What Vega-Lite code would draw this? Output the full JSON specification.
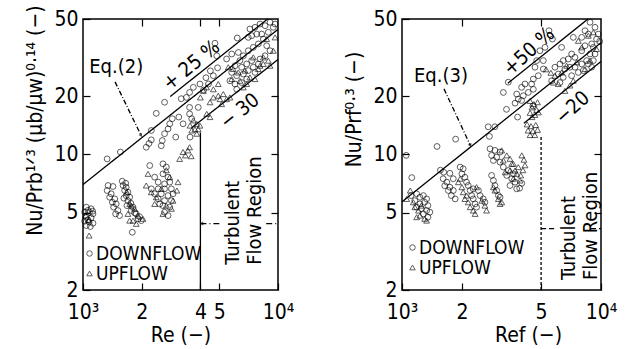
{
"$schema":"https://vega.github.io/schema/vega-lite/v6.json",
"background":"white",
"padding":{"left":24,"top":4,"right":5,"bottom":0},
"spacing":48,
"datasets":{
"Lpts":[
{"Re":1040,"Nu":5.35,"flow":"DOWNFLOW"},{"Re":1100,"Nu":5.25,"flow":"DOWNFLOW"},{"Re":1020,"Nu":5.04,"flow":"DOWNFLOW"},{"Re":1080,"Nu":5.04,"flow":"DOWNFLOW"},{"Re":1125,"Nu":4.94,"flow":"DOWNFLOW"},{"Re":1040,"Nu":4.75,"flow":"DOWNFLOW"},{"Re":1100,"Nu":4.71,"flow":"DOWNFLOW"},{"Re":1020,"Nu":4.53,"flow":"DOWNFLOW"},{"Re":1075,"Nu":4.48,"flow":"DOWNFLOW"},{"Re":1125,"Nu":4.42,"flow":"DOWNFLOW"},{"Re":1040,"Nu":4.30,"flow":"DOWNFLOW"},{"Re":1090,"Nu":4.25,"flow":"DOWNFLOW"},{"Re":1060,"Nu":5.15,"flow":"DOWNFLOW"},{"Re":1120,"Nu":5.1,"flow":"DOWNFLOW"},{"Re":1060,"Nu":4.6,"flow":"DOWNFLOW"},
{"Re":1345,"Nu":6.92,"flow":"DOWNFLOW"},{"Re":1425,"Nu":6.84,"flow":"DOWNFLOW"},{"Re":1330,"Nu":6.52,"flow":"DOWNFLOW"},{"Re":1395,"Nu":6.27,"flow":"DOWNFLOW"},{"Re":1370,"Nu":6.02,"flow":"DOWNFLOW"},{"Re":1455,"Nu":5.90,"flow":"DOWNFLOW"},{"Re":1415,"Nu":5.67,"flow":"DOWNFLOW"},{"Re":1480,"Nu":5.56,"flow":"DOWNFLOW"},{"Re":1435,"Nu":5.35,"flow":"DOWNFLOW"},{"Re":1510,"Nu":5.14,"flow":"DOWNFLOW"},{"Re":1470,"Nu":4.94,"flow":"DOWNFLOW"},{"Re":1540,"Nu":4.84,"flow":"DOWNFLOW"},{"Re":1590,"Nu":7.28,"flow":"DOWNFLOW"},{"Re":1655,"Nu":7.11,"flow":"DOWNFLOW"},{"Re":1605,"Nu":6.92,"flow":"DOWNFLOW"},{"Re":1665,"Nu":6.78,"flow":"DOWNFLOW"},{"Re":1635,"Nu":6.52,"flow":"DOWNFLOW"},{"Re":1700,"Nu":6.39,"flow":"DOWNFLOW"},{"Re":1665,"Nu":6.14,"flow":"DOWNFLOW"},{"Re":1735,"Nu":6.02,"flow":"DOWNFLOW"},{"Re":1700,"Nu":5.78,"flow":"DOWNFLOW"},{"Re":1805,"Nu":5.35,"flow":"DOWNFLOW"},{"Re":1770,"Nu":5.14,"flow":"DOWNFLOW"},{"Re":1875,"Nu":4.94,"flow":"DOWNFLOW"},{"Re":1915,"Nu":4.66,"flow":"DOWNFLOW"},{"Re":1950,"Nu":4.78,"flow":"DOWNFLOW"},{"Re":1790,"Nu":3.97,"flow":"DOWNFLOW"},{"Re":1990,"Nu":4.56,"flow":"DOWNFLOW"},{"Re":1620,"Nu":5.95,"flow":"DOWNFLOW"},{"Re":1760,"Nu":5.6,"flow":"DOWNFLOW"},{"Re":1840,"Nu":5.0,"flow":"DOWNFLOW"},{"Re":1680,"Nu":5.45,"flow":"DOWNFLOW"},
{"Re":2200,"Nu":8.77,"flow":"DOWNFLOW"},{"Re":2570,"Nu":8.95,"flow":"DOWNFLOW"},{"Re":2675,"Nu":8.61,"flow":"DOWNFLOW"},{"Re":2330,"Nu":7.64,"flow":"DOWNFLOW"},{"Re":2570,"Nu":7.95,"flow":"DOWNFLOW"},{"Re":2730,"Nu":7.64,"flow":"DOWNFLOW"},{"Re":2430,"Nu":7.2,"flow":"DOWNFLOW"},{"Re":2620,"Nu":7.05,"flow":"DOWNFLOW"},{"Re":2785,"Nu":7.2,"flow":"DOWNFLOW"},{"Re":2240,"Nu":6.65,"flow":"DOWNFLOW"},{"Re":2430,"Nu":6.65,"flow":"DOWNFLOW"},{"Re":2620,"Nu":6.65,"flow":"DOWNFLOW"},{"Re":2840,"Nu":6.65,"flow":"DOWNFLOW"},{"Re":2330,"Nu":6.27,"flow":"DOWNFLOW"},{"Re":2520,"Nu":6.27,"flow":"DOWNFLOW"},{"Re":2730,"Nu":6.14,"flow":"DOWNFLOW"},{"Re":2895,"Nu":6.27,"flow":"DOWNFLOW"},{"Re":2430,"Nu":5.9,"flow":"DOWNFLOW"},{"Re":2620,"Nu":5.78,"flow":"DOWNFLOW"},{"Re":2840,"Nu":5.78,"flow":"DOWNFLOW"},{"Re":2570,"Nu":5.45,"flow":"DOWNFLOW"},{"Re":2785,"Nu":5.35,"flow":"DOWNFLOW"},{"Re":2620,"Nu":5.04,"flow":"DOWNFLOW"},{"Re":2730,"Nu":4.84,"flow":"DOWNFLOW"},{"Re":2475,"Nu":5.56,"flow":"DOWNFLOW"},
{"Re":1330,"Nu":9.49,"flow":"DOWNFLOW"},{"Re":1555,"Nu":10.3,"flow":"DOWNFLOW"},{"Re":2240,"Nu":13.3,"flow":"DOWNFLOW"},{"Re":2110,"Nu":10.9,"flow":"DOWNFLOW"},{"Re":2180,"Nu":11.4,"flow":"DOWNFLOW"},{"Re":2240,"Nu":11.9,"flow":"DOWNFLOW"},{"Re":2375,"Nu":16.3,"flow":"DOWNFLOW"},{"Re":2620,"Nu":18.6,"flow":"DOWNFLOW"},{"Re":2520,"Nu":11.1,"flow":"DOWNFLOW"},{"Re":2550,"Nu":11.8,"flow":"DOWNFLOW"},{"Re":2620,"Nu":12.8,"flow":"DOWNFLOW"},{"Re":2730,"Nu":13.55,"flow":"DOWNFLOW"},{"Re":2785,"Nu":14.4,"flow":"DOWNFLOW"},{"Re":2870,"Nu":15.3,"flow":"DOWNFLOW"},{"Re":2990,"Nu":12.3,"flow":"DOWNFLOW"},{"Re":3100,"Nu":15.6,"flow":"DOWNFLOW"},{"Re":3260,"Nu":14.4,"flow":"DOWNFLOW"},{"Re":3190,"Nu":19.4,"flow":"DOWNFLOW"},{"Re":3390,"Nu":19.7,"flow":"DOWNFLOW"},{"Re":3520,"Nu":20.9,"flow":"DOWNFLOW"},{"Re":3520,"Nu":17.5,"flow":"DOWNFLOW"},{"Re":3520,"Nu":16.2,"flow":"DOWNFLOW"},{"Re":3610,"Nu":15.3,"flow":"DOWNFLOW"},{"Re":3900,"Nu":17.5,"flow":"DOWNFLOW"},{"Re":3540,"Nu":12.3,"flow":"DOWNFLOW"},
{"Re":3980,"Nu":23.1,"flow":"DOWNFLOW"},{"Re":4270,"Nu":24.9,"flow":"DOWNFLOW"},{"Re":4660,"Nu":25.5,"flow":"DOWNFLOW"},{"Re":4400,"Nu":23.1,"flow":"DOWNFLOW"},{"Re":3680,"Nu":22.2,"flow":"DOWNFLOW"},{"Re":4150,"Nu":21.5,"flow":"DOWNFLOW"},{"Re":4850,"Nu":32.3,"flow":"DOWNFLOW"},{"Re":4750,"Nu":37.5,"flow":"DOWNFLOW"},{"Re":4500,"Nu":27,"flow":"DOWNFLOW"},{"Re":4900,"Nu":28,"flow":"DOWNFLOW"},
{"Re":7180,"Nu":44.4,"flow":"DOWNFLOW"},{"Re":7620,"Nu":45.3,"flow":"DOWNFLOW"},{"Re":8090,"Nu":47.1,"flow":"DOWNFLOW"},{"Re":8580,"Nu":46.2,"flow":"DOWNFLOW"},{"Re":9100,"Nu":48.1,"flow":"DOWNFLOW"},{"Re":9460,"Nu":45.3,"flow":"DOWNFLOW"},{"Re":8920,"Nu":42.7,"flow":"DOWNFLOW"},{"Re":8250,"Nu":41.8,"flow":"DOWNFLOW"},{"Re":7780,"Nu":41.8,"flow":"DOWNFLOW"},{"Re":7330,"Nu":41,"flow":"DOWNFLOW"},{"Re":7040,"Nu":40.2,"flow":"DOWNFLOW"},{"Re":6180,"Nu":39.9,"flow":"DOWNFLOW"},{"Re":9660,"Nu":47.1,"flow":"DOWNFLOW"},{"Re":8410,"Nu":39.4,"flow":"DOWNFLOW"},{"Re":7930,"Nu":37.2,"flow":"DOWNFLOW"},{"Re":7470,"Nu":35.7,"flow":"DOWNFLOW"},{"Re":7040,"Nu":34.3,"flow":"DOWNFLOW"},{"Re":8750,"Nu":36.4,"flow":"DOWNFLOW"},{"Re":5450,"Nu":31.1,"flow":"DOWNFLOW"},{"Re":5790,"Nu":33,"flow":"DOWNFLOW"},{"Re":6260,"Nu":33.6,"flow":"DOWNFLOW"},{"Re":6640,"Nu":32.3,"flow":"DOWNFLOW"},{"Re":6380,"Nu":30.5,"flow":"DOWNFLOW"},{"Re":6020,"Nu":28.7,"flow":"DOWNFLOW"},{"Re":6510,"Nu":28.2,"flow":"DOWNFLOW"},{"Re":6910,"Nu":29.3,"flow":"DOWNFLOW"},{"Re":7330,"Nu":30.5,"flow":"DOWNFLOW"},{"Re":5790,"Nu":26.5,"flow":"DOWNFLOW"},{"Re":6140,"Nu":25.5,"flow":"DOWNFLOW"},{"Re":6640,"Nu":26,"flow":"DOWNFLOW"},{"Re":7040,"Nu":27.1,"flow":"DOWNFLOW"},{"Re":7470,"Nu":28.2,"flow":"DOWNFLOW"},{"Re":7930,"Nu":29.3,"flow":"DOWNFLOW"},{"Re":5670,"Nu":24,"flow":"DOWNFLOW"},{"Re":6020,"Nu":23.1,"flow":"DOWNFLOW"},{"Re":6510,"Nu":23.5,"flow":"DOWNFLOW"},{"Re":6910,"Nu":24.5,"flow":"DOWNFLOW"},{"Re":7620,"Nu":26.5,"flow":"DOWNFLOW"},{"Re":8090,"Nu":31.1,"flow":"DOWNFLOW"},{"Re":8580,"Nu":32.3,"flow":"DOWNFLOW"},{"Re":6140,"Nu":21.7,"flow":"DOWNFLOW"},{"Re":9100,"Nu":34.3,"flow":"DOWNFLOW"},
{"Re":1075,"Nu":3.82,"flow":"UPFLOW"},{"Re":1030,"Nu":4.85,"flow":"UPFLOW"},{"Re":1070,"Nu":4.6,"flow":"UPFLOW"},
{"Re":1680,"Nu":6.39,"flow":"UPFLOW"},{"Re":1735,"Nu":5.56,"flow":"UPFLOW"},{"Re":1770,"Nu":5.45,"flow":"UPFLOW"},{"Re":1840,"Nu":5.25,"flow":"UPFLOW"},{"Re":1700,"Nu":4.94,"flow":"UPFLOW"},{"Re":1915,"Nu":4.84,"flow":"UPFLOW"},{"Re":1805,"Nu":4.56,"flow":"UPFLOW"},{"Re":1735,"Nu":4.56,"flow":"UPFLOW"},{"Re":1875,"Nu":4.39,"flow":"UPFLOW"},{"Re":2030,"Nu":4.66,"flow":"UPFLOW"},
{"Re":2155,"Nu":7.95,"flow":"UPFLOW"},{"Re":2110,"Nu":6.92,"flow":"UPFLOW"},{"Re":2240,"Nu":6.39,"flow":"UPFLOW"},{"Re":2375,"Nu":6.02,"flow":"UPFLOW"},{"Re":2330,"Nu":5.56,"flow":"UPFLOW"},{"Re":2675,"Nu":5.45,"flow":"UPFLOW"},{"Re":3070,"Nu":7.2,"flow":"UPFLOW"},{"Re":3030,"Nu":6.52,"flow":"UPFLOW"},{"Re":2840,"Nu":5.25,"flow":"UPFLOW"},{"Re":2570,"Nu":4.94,"flow":"UPFLOW"},{"Re":2675,"Nu":8.3,"flow":"UPFLOW"},{"Re":2785,"Nu":7.64,"flow":"UPFLOW"},{"Re":2895,"Nu":5.78,"flow":"UPFLOW"},{"Re":2520,"Nu":6.65,"flow":"UPFLOW"},
{"Re":3130,"Nu":9.49,"flow":"UPFLOW"},{"Re":3260,"Nu":10.3,"flow":"UPFLOW"},{"Re":3520,"Nu":10.9,"flow":"UPFLOW"},{"Re":3590,"Nu":9.8,"flow":"UPFLOW"},{"Re":3350,"Nu":9.9,"flow":"UPFLOW"},{"Re":3450,"Nu":10.5,"flow":"UPFLOW"},
{"Re":3680,"Nu":15,"flow":"UPFLOW"},{"Re":3830,"Nu":14.4,"flow":"UPFLOW"},{"Re":3750,"Nu":13.5,"flow":"UPFLOW"},{"Re":3610,"Nu":13.3,"flow":"UPFLOW"},{"Re":3900,"Nu":13.5,"flow":"UPFLOW"},{"Re":3830,"Nu":12.8,"flow":"UPFLOW"},{"Re":3980,"Nu":14.1,"flow":"UPFLOW"},{"Re":3540,"Nu":14.1,"flow":"UPFLOW"},
{"Re":4140,"Nu":21.3,"flow":"UPFLOW"},{"Re":4660,"Nu":21.7,"flow":"UPFLOW"},{"Re":4940,"Nu":23.1,"flow":"UPFLOW"},{"Re":4660,"Nu":19.7,"flow":"UPFLOW"},{"Re":5040,"Nu":19.3,"flow":"UPFLOW"},{"Re":5450,"Nu":19.3,"flow":"UPFLOW"},{"Re":4480,"Nu":18.6,"flow":"UPFLOW"},{"Re":5140,"Nu":18.2,"flow":"UPFLOW"},{"Re":4310,"Nu":16.2,"flow":"UPFLOW"},{"Re":4480,"Nu":15.6,"flow":"UPFLOW"},{"Re":4940,"Nu":20.1,"flow":"UPFLOW"},{"Re":5240,"Nu":20.5,"flow":"UPFLOW"},{"Re":5670,"Nu":19.7,"flow":"UPFLOW"},{"Re":4000,"Nu":19.7,"flow":"UPFLOW"},{"Re":4300,"Nu":22.2,"flow":"UPFLOW"},
{"Re":5560,"Nu":28.2,"flow":"UPFLOW"},{"Re":5900,"Nu":27.6,"flow":"UPFLOW"},{"Re":6260,"Nu":26.5,"flow":"UPFLOW"},{"Re":6770,"Nu":27.1,"flow":"UPFLOW"},{"Re":7180,"Nu":25,"flow":"UPFLOW"},{"Re":7620,"Nu":24.5,"flow":"UPFLOW"},{"Re":7930,"Nu":27.6,"flow":"UPFLOW"},{"Re":8410,"Nu":29.3,"flow":"UPFLOW"},{"Re":6380,"Nu":24,"flow":"UPFLOW"},{"Re":5790,"Nu":24.5,"flow":"UPFLOW"},{"Re":6640,"Nu":22.2,"flow":"UPFLOW"},{"Re":6910,"Nu":23.1,"flow":"UPFLOW"},{"Re":8750,"Nu":39.4,"flow":"UPFLOW"},{"Re":8410,"Nu":31.7,"flow":"UPFLOW"},{"Re":8920,"Nu":30.5,"flow":"UPFLOW"},{"Re":8090,"Nu":28.7,"flow":"UPFLOW"},{"Re":9460,"Nu":34.3,"flow":"UPFLOW"},{"Re":9100,"Nu":28.7,"flow":"UPFLOW"},{"Re":7470,"Nu":31.7,"flow":"UPFLOW"},{"Re":9660,"Nu":40.2,"flow":"UPFLOW"}
],
"Rpts":[
{"Re":1050,"Nu":9.9,"flow":"DOWNFLOW"},{"Re":1120,"Nu":7.6,"flow":"DOWNFLOW"},{"Re":1500,"Nu":11.0,"flow":"DOWNFLOW"},{"Re":1860,"Nu":12.0,"flow":"DOWNFLOW"},{"Re":2710,"Nu":13.9,"flow":"DOWNFLOW"},{"Re":2930,"Nu":13.9,"flow":"DOWNFLOW"},{"Re":2750,"Nu":12.4,"flow":"DOWNFLOW"},{"Re":1560,"Nu":8.3,"flow":"DOWNFLOW"},{"Re":1620,"Nu":8.1,"flow":"DOWNFLOW"},
{"Re":1110,"Nu":6.14,"flow":"DOWNFLOW"},{"Re":1185,"Nu":6.27,"flow":"DOWNFLOW"},{"Re":1230,"Nu":6.02,"flow":"DOWNFLOW"},{"Re":1280,"Nu":6.14,"flow":"DOWNFLOW"},{"Re":1330,"Nu":5.9,"flow":"DOWNFLOW"},{"Re":1160,"Nu":5.78,"flow":"DOWNFLOW"},{"Re":1230,"Nu":5.56,"flow":"DOWNFLOW"},{"Re":1300,"Nu":5.67,"flow":"DOWNFLOW"},{"Re":1350,"Nu":5.45,"flow":"DOWNFLOW"},{"Re":1185,"Nu":5.35,"flow":"DOWNFLOW"},{"Re":1250,"Nu":5.25,"flow":"DOWNFLOW"},{"Re":1330,"Nu":5.14,"flow":"DOWNFLOW"},{"Re":1380,"Nu":5.04,"flow":"DOWNFLOW"},{"Re":1280,"Nu":4.94,"flow":"DOWNFLOW"},{"Re":1350,"Nu":4.75,"flow":"DOWNFLOW"},
{"Re":1610,"Nu":7.5,"flow":"DOWNFLOW"},{"Re":1680,"Nu":7.2,"flow":"DOWNFLOW"},{"Re":1640,"Nu":6.9,"flow":"DOWNFLOW"},{"Re":1740,"Nu":6.78,"flow":"DOWNFLOW"},{"Re":1710,"Nu":6.52,"flow":"DOWNFLOW"},{"Re":1810,"Nu":6.52,"flow":"DOWNFLOW"},{"Re":1770,"Nu":6.14,"flow":"DOWNFLOW"},{"Re":1850,"Nu":5.9,"flow":"DOWNFLOW"},{"Re":1810,"Nu":7.5,"flow":"DOWNFLOW"},{"Re":1740,"Nu":8.0,"flow":"DOWNFLOW"},
{"Re":1960,"Nu":8.61,"flow":"DOWNFLOW"},{"Re":2030,"Nu":8.44,"flow":"DOWNFLOW"},{"Re":2000,"Nu":7.95,"flow":"DOWNFLOW"},{"Re":2070,"Nu":7.64,"flow":"DOWNFLOW"},{"Re":2110,"Nu":7.2,"flow":"DOWNFLOW"},{"Re":2150,"Nu":6.92,"flow":"DOWNFLOW"},{"Re":2200,"Nu":6.52,"flow":"DOWNFLOW"},{"Re":2240,"Nu":6.14,"flow":"DOWNFLOW"},{"Re":2280,"Nu":5.9,"flow":"DOWNFLOW"},{"Re":2330,"Nu":5.56,"flow":"DOWNFLOW"},{"Re":2370,"Nu":5.35,"flow":"DOWNFLOW"},
{"Re":2280,"Nu":6.65,"flow":"DOWNFLOW"},{"Re":2420,"Nu":6.52,"flow":"DOWNFLOW"},{"Re":2470,"Nu":6.14,"flow":"DOWNFLOW"},{"Re":2560,"Nu":5.9,"flow":"DOWNFLOW"},{"Re":2610,"Nu":5.67,"flow":"DOWNFLOW"},
{"Re":2820,"Nu":7.8,"flow":"DOWNFLOW"},{"Re":2880,"Nu":7.34,"flow":"DOWNFLOW"},{"Re":2930,"Nu":6.92,"flow":"DOWNFLOW"},{"Re":2990,"Nu":6.52,"flow":"DOWNFLOW"},{"Re":3050,"Nu":6.14,"flow":"DOWNFLOW"},{"Re":3110,"Nu":6.02,"flow":"DOWNFLOW"},
{"Re":2770,"Nu":10.7,"flow":"DOWNFLOW"},{"Re":2930,"Nu":10.5,"flow":"DOWNFLOW"},{"Re":3110,"Nu":10.3,"flow":"DOWNFLOW"},{"Re":2820,"Nu":9.9,"flow":"DOWNFLOW"},{"Re":2990,"Nu":9.69,"flow":"DOWNFLOW"},{"Re":2880,"Nu":9.31,"flow":"DOWNFLOW"},{"Re":3110,"Nu":9.13,"flow":"DOWNFLOW"},{"Re":3230,"Nu":8.61,"flow":"DOWNFLOW"},{"Re":3420,"Nu":8.27,"flow":"DOWNFLOW"},{"Re":3360,"Nu":7.8,"flow":"DOWNFLOW"},{"Re":3560,"Nu":7.5,"flow":"DOWNFLOW"},{"Re":3700,"Nu":7.2,"flow":"DOWNFLOW"},{"Re":3490,"Nu":6.92,"flow":"DOWNFLOW"},{"Re":3770,"Nu":6.65,"flow":"DOWNFLOW"},{"Re":3630,"Nu":7.95,"flow":"DOWNFLOW"},{"Re":3900,"Nu":6.7,"flow":"DOWNFLOW"},{"Re":4000,"Nu":7.1,"flow":"DOWNFLOW"},
{"Re":5480,"Nu":43.5,"flow":"DOWNFLOW"},{"Re":5700,"Nu":39.4,"flow":"DOWNFLOW"},{"Re":5230,"Nu":35.7,"flow":"DOWNFLOW"},{"Re":4930,"Nu":34.3,"flow":"DOWNFLOW"},{"Re":4750,"Nu":30.5,"flow":"DOWNFLOW"},{"Re":5130,"Nu":30.5,"flow":"DOWNFLOW"},{"Re":4660,"Nu":28.2,"flow":"DOWNFLOW"},{"Re":5130,"Nu":27.6,"flow":"DOWNFLOW"},{"Re":4840,"Nu":25.5,"flow":"DOWNFLOW"},{"Re":4570,"Nu":24.5,"flow":"DOWNFLOW"},{"Re":4150,"Nu":23.1,"flow":"DOWNFLOW"},{"Re":3990,"Nu":22.2,"flow":"DOWNFLOW"},{"Re":4480,"Nu":23.1,"flow":"DOWNFLOW"},{"Re":4570,"Nu":21.7,"flow":"DOWNFLOW"},{"Re":3770,"Nu":20.5,"flow":"DOWNFLOW"},{"Re":3840,"Nu":19.3,"flow":"DOWNFLOW"},{"Re":3700,"Nu":18.4,"flow":"DOWNFLOW"},{"Re":3350,"Nu":17.1,"flow":"DOWNFLOW"},{"Re":3420,"Nu":23.6,"flow":"DOWNFLOW"},{"Re":3230,"Nu":20.9,"flow":"DOWNFLOW"},{"Re":3990,"Nu":19.0,"flow":"DOWNFLOW"},{"Re":4310,"Nu":20.9,"flow":"DOWNFLOW"},{"Re":4070,"Nu":20.1,"flow":"DOWNFLOW"},{"Re":3810,"Nu":15.6,"flow":"DOWNFLOW"},{"Re":4550,"Nu":17.8,"flow":"DOWNFLOW"},
{"Re":8810,"Nu":48.1,"flow":"DOWNFLOW"},{"Re":9330,"Nu":45.3,"flow":"DOWNFLOW"},{"Re":8310,"Nu":43.5,"flow":"DOWNFLOW"},{"Re":8640,"Nu":41.8,"flow":"DOWNFLOW"},{"Re":8000,"Nu":40.2,"flow":"DOWNFLOW"},{"Re":7260,"Nu":40.2,"flow":"DOWNFLOW"},{"Re":6340,"Nu":35.7,"flow":"DOWNFLOW"},{"Re":7120,"Nu":33,"flow":"DOWNFLOW"},{"Re":8000,"Nu":34.3,"flow":"DOWNFLOW"},{"Re":9690,"Nu":41.8,"flow":"DOWNFLOW"},{"Re":9850,"Nu":38.3,"flow":"DOWNFLOW"},{"Re":8980,"Nu":37.2,"flow":"DOWNFLOW"},
{"Re":5870,"Nu":28.2,"flow":"DOWNFLOW"},{"Re":6220,"Nu":29.3,"flow":"DOWNFLOW"},{"Re":6460,"Nu":30.5,"flow":"DOWNFLOW"},{"Re":6850,"Nu":31.1,"flow":"DOWNFLOW"},{"Re":7400,"Nu":31.7,"flow":"DOWNFLOW"},{"Re":6590,"Nu":27.6,"flow":"DOWNFLOW"},{"Re":6980,"Nu":28.2,"flow":"DOWNFLOW"},{"Re":6100,"Nu":26,"flow":"DOWNFLOW"},{"Re":6460,"Nu":25,"flow":"DOWNFLOW"},{"Re":7120,"Nu":25.5,"flow":"DOWNFLOW"},{"Re":7690,"Nu":26.5,"flow":"DOWNFLOW"},{"Re":7400,"Nu":28.2,"flow":"DOWNFLOW"},{"Re":8000,"Nu":29.3,"flow":"DOWNFLOW"},{"Re":8470,"Nu":30.5,"flow":"DOWNFLOW"},{"Re":8810,"Nu":33,"flow":"DOWNFLOW"},{"Re":9150,"Nu":35.7,"flow":"DOWNFLOW"},{"Re":9500,"Nu":39.4,"flow":"DOWNFLOW"},{"Re":8310,"Nu":36.4,"flow":"DOWNFLOW"},{"Re":9330,"Nu":33,"flow":"DOWNFLOW"},{"Re":8640,"Nu":29.3,"flow":"DOWNFLOW"},{"Re":9150,"Nu":30.5,"flow":"DOWNFLOW"},{"Re":8150,"Nu":27.1,"flow":"DOWNFLOW"},{"Re":8980,"Nu":28.2,"flow":"DOWNFLOW"},{"Re":5650,"Nu":24,"flow":"DOWNFLOW"},{"Re":6220,"Nu":23.5,"flow":"DOWNFLOW"},
{"Re":1100,"Nu":6.52,"flow":"UPFLOW"},{"Re":1056,"Nu":5.9,"flow":"UPFLOW"},{"Re":1140,"Nu":5.67,"flow":"UPFLOW"},{"Re":1210,"Nu":5.14,"flow":"UPFLOW"},{"Re":1230,"Nu":4.84,"flow":"UPFLOW"},{"Re":1300,"Nu":4.66,"flow":"UPFLOW"},{"Re":1330,"Nu":4.56,"flow":"UPFLOW"},{"Re":1160,"Nu":5.35,"flow":"UPFLOW"},{"Re":1250,"Nu":5.45,"flow":"UPFLOW"},{"Re":1185,"Nu":4.75,"flow":"UPFLOW"},
{"Re":1920,"Nu":7.2,"flow":"UPFLOW"},{"Re":2000,"Nu":6.78,"flow":"UPFLOW"},{"Re":2030,"Nu":6.39,"flow":"UPFLOW"},{"Re":2070,"Nu":5.9,"flow":"UPFLOW"},{"Re":2150,"Nu":5.67,"flow":"UPFLOW"},{"Re":2200,"Nu":5.35,"flow":"UPFLOW"},{"Re":2280,"Nu":5.14,"flow":"UPFLOW"},{"Re":2330,"Nu":4.94,"flow":"UPFLOW"},{"Re":1960,"Nu":7.5,"flow":"UPFLOW"},{"Re":2110,"Nu":6.14,"flow":"UPFLOW"},
{"Re":2370,"Nu":6.78,"flow":"UPFLOW"},{"Re":2520,"Nu":5.78,"flow":"UPFLOW"},{"Re":2610,"Nu":5.45,"flow":"UPFLOW"},{"Re":2660,"Nu":5.14,"flow":"UPFLOW"},
{"Re":2930,"Nu":6.52,"flow":"UPFLOW"},{"Re":3050,"Nu":5.9,"flow":"UPFLOW"},{"Re":3110,"Nu":5.56,"flow":"UPFLOW"},{"Re":3170,"Nu":5.67,"flow":"UPFLOW"},{"Re":2880,"Nu":6.78,"flow":"UPFLOW"},
{"Re":3170,"Nu":10.5,"flow":"UPFLOW"},{"Re":3490,"Nu":9.5,"flow":"UPFLOW"},{"Re":3360,"Nu":9.9,"flow":"UPFLOW"},{"Re":3230,"Nu":9.31,"flow":"UPFLOW"},{"Re":3630,"Nu":8.95,"flow":"UPFLOW"},{"Re":3840,"Nu":8.61,"flow":"UPFLOW"},{"Re":3700,"Nu":8.27,"flow":"UPFLOW"},{"Re":3490,"Nu":8.27,"flow":"UPFLOW"},{"Re":3770,"Nu":7.95,"flow":"UPFLOW"},{"Re":3920,"Nu":7.34,"flow":"UPFLOW"},{"Re":3630,"Nu":7.5,"flow":"UPFLOW"},{"Re":3300,"Nu":8.1,"flow":"UPFLOW"},{"Re":3560,"Nu":8.95,"flow":"UPFLOW"},{"Re":4000,"Nu":9.9,"flow":"UPFLOW"},{"Re":4100,"Nu":9.4,"flow":"UPFLOW"},{"Re":4050,"Nu":8.3,"flow":"UPFLOW"},{"Re":3950,"Nu":7.8,"flow":"UPFLOW"},{"Re":4150,"Nu":8.8,"flow":"UPFLOW"},
{"Re":4400,"Nu":18.9,"flow":"UPFLOW"},{"Re":4600,"Nu":18.2,"flow":"UPFLOW"},{"Re":4800,"Nu":18.6,"flow":"UPFLOW"},{"Re":4500,"Nu":17.5,"flow":"UPFLOW"},{"Re":4750,"Nu":17,"flow":"UPFLOW"},{"Re":4400,"Nu":16.4,"flow":"UPFLOW"},{"Re":4650,"Nu":16,"flow":"UPFLOW"},{"Re":4850,"Nu":16.5,"flow":"UPFLOW"},{"Re":4500,"Nu":15.6,"flow":"UPFLOW"},{"Re":4250,"Nu":14.3,"flow":"UPFLOW"},{"Re":4450,"Nu":14,"flow":"UPFLOW"},{"Re":4700,"Nu":14.2,"flow":"UPFLOW"},{"Re":4300,"Nu":13.3,"flow":"UPFLOW"},{"Re":4550,"Nu":13.2,"flow":"UPFLOW"},{"Re":4800,"Nu":13.4,"flow":"UPFLOW"},{"Re":4400,"Nu":12.6,"flow":"UPFLOW"},{"Re":4650,"Nu":12.6,"flow":"UPFLOW"},
{"Re":5870,"Nu":25.5,"flow":"UPFLOW"},{"Re":5760,"Nu":23.5,"flow":"UPFLOW"},{"Re":6100,"Nu":23.1,"flow":"UPFLOW"},{"Re":6340,"Nu":26.5,"flow":"UPFLOW"},{"Re":6720,"Nu":28.7,"flow":"UPFLOW"},{"Re":7260,"Nu":24,"flow":"UPFLOW"},{"Re":6980,"Nu":22.7,"flow":"UPFLOW"},{"Re":7690,"Nu":38.6,"flow":"UPFLOW"},{"Re":8000,"Nu":35.7,"flow":"UPFLOW"},{"Re":8640,"Nu":41,"flow":"UPFLOW"},{"Re":9150,"Nu":42.7,"flow":"UPFLOW"},{"Re":8810,"Nu":30.5,"flow":"UPFLOW"},{"Re":8310,"Nu":27.6,"flow":"UPFLOW"},{"Re":7550,"Nu":29.9,"flow":"UPFLOW"},{"Re":9500,"Nu":35,"flow":"UPFLOW"},{"Re":6590,"Nu":21.3,"flow":"UPFLOW"},{"Re":5300,"Nu":27.5,"flow":"UPFLOW"},{"Re":5600,"Nu":26.4,"flow":"UPFLOW"}
],
"Llines":[
{"id":"eq2","kind":"equation","Re":1000,"Nu":7.0},{"id":"eq2","kind":"equation","Re":10000,"Nu":44.2},
{"id":"plus25","kind":"bound","Re":2800,"Nu":19.9},{"id":"plus25","kind":"bound","Re":8840,"Nu":50},
{"id":"minus30","kind":"bound","Re":3600,"Nu":13.7},{"id":"minus30","kind":"bound","Re":10000,"Nu":30.9},
{"id":"limit","kind":"boundary","Re":4000,"Nu":2},{"id":"limit","kind":"boundary","Re":4000,"Nu":13},
{"id":"turbA","kind":"guide","Re":4000,"Nu":4.4},{"id":"turbA","kind":"guide","Re":5000,"Nu":4.4},
{"id":"turbB","kind":"guide","Re":8700,"Nu":4.4},{"id":"turbB","kind":"guide","Re":10000,"Nu":4.4},
{"id":"lead","kind":"leader","Re":1460,"Nu":23.7},{"id":"lead","kind":"leader","Re":1980,"Nu":12.6}
],
"Rlines":[
{"id":"eq3","kind":"equation","Re":1000,"Nu":5.7},{"id":"eq3","kind":"equation","Re":10000,"Nu":37.7},
{"id":"plus50","kind":"bound","Re":3400,"Nu":23.3},{"id":"plus50","kind":"bound","Re":8600,"Nu":50},
{"id":"minus20","kind":"bound","Re":4100,"Nu":14.5},{"id":"minus20","kind":"bound","Re":10000,"Nu":30.2},
{"id":"limit","kind":"boundary","Re":5000,"Nu":2},{"id":"limit","kind":"boundary","Re":5000,"Nu":12.3},
{"id":"turbA","kind":"guide","Re":5000,"Nu":4.15},{"id":"turbA","kind":"guide","Re":6000,"Nu":4.15},
{"id":"turbB","kind":"guide","Re":8900,"Nu":4.15},{"id":"turbB","kind":"guide","Re":10000,"Nu":4.15},
{"id":"lead","kind":"leader","Re":1626,"Nu":21.8},{"id":"lead","kind":"leader","Re":2200,"Nu":11.2}
],
"Lnote":[{"label":"Eq.(2)","Re":1480,"Nu":28.3}],
"Lbound":[{"label":"+ 25 %","Re":3600,"Nu":28.8},{"label":"− 30","Re":6380,"Nu":16.7}],
"Lturb":[{"label":"Turbulent\nFlow Region","Re":5220,"Nu":2.70}],
"Llead":[{"Re":1980,"Nu":12.6}],
"Lturbarrow":[{"Re":4080,"Nu":4.4}],
"Rnote":[{"label":"Eq.(3)","Re":1570,"Nu":25.4}],
"Rbound":[{"label":"+50 %","Re":4350,"Nu":34.0},{"label":"−20","Re":7210,"Nu":17.4}],
"Rturb":[{"label":"Turbulent\nFlow Region","Re":6150,"Nu":2.25}],
"Rlead":[{"Re":2200,"Nu":11.2}]
},
"hconcat":[
{
"width":195,"height":271,
"layer":[
{"layer":[
{"data":{"name":"Lpts"},
 "mark":{"type":"point","filled":false,"color":"black","size":34,"strokeWidth":0.9},
 "encoding":{
  "x":{"field":"Re","type":"quantitative","scale":{"type":"log","domain":[1000,10000],"nice":false},
       "axis":{"values":[1000,2000,4000,5000,10000],"labelExpr":"datum.value == 1000 ? '10³' : datum.value == 10000 ? '10⁴' : format(datum.value/1000, 'd')","title":"Re  (−)","labelPadding":18,"titlePadding":2}},
  "y":{"field":"Nu","type":"quantitative","scale":{"type":"log","domain":[2,50],"nice":false},
       "axis":{"values":[2,5,10,20,50],"labelExpr":"format(datum.value, 'd')","title":"Nu/Prb¹ᐟ³ (μb/μw)⁰·¹⁴ (−)","titleY":101}},
  "shape":{"field":"flow","type":"nominal","scale":{"domain":["DOWNFLOW","UPFLOW"],"range":["circle","triangle-up"]},
       "legend":{"orient":"none","legendX":-3,"legendY":225,"title":null,"labelFontSize":19,"symbolSize":30,"symbolStrokeWidth":0.9,"symbolStrokeColor":"black","rowPadding":-4,"labelOffset":-3,"padding":0}}
 }},
{"data":{"name":"Llines"},
 "mark":{"type":"line","color":"black"},
 "encoding":{
  "x":{"field":"Re","type":"quantitative"},
  "y":{"field":"Nu","type":"quantitative"},
  "detail":{"field":"id"},
  "strokeDash":{"field":"kind","type":"nominal","scale":{"domain":["equation","bound","boundary","guide","leader"],"range":[[1,0],[1,0],[1,0],[6,3,1,3],[5,2,1,2]]},"legend":null},
  "strokeWidth":{"field":"kind","type":"nominal","scale":{"domain":["equation","bound","boundary","guide","leader"],"range":[1.3,1.3,1.1,1,0.7]},"legend":null}
 }},
{"data":{"name":"Lnote"},
 "mark":{"type":"text","fontSize":20,"color":"black","align":"center","baseline":"middle"},
 "encoding":{"x":{"field":"Re","type":"quantitative"},"y":{"field":"Nu","type":"quantitative"},"text":{"field":"label"}}},
{"data":{"name":"Lbound"},
 "mark":{"type":"text","fontSize":20,"color":"black","align":"center","baseline":"middle","angle":321},
 "encoding":{"x":{"field":"Re","type":"quantitative"},"y":{"field":"Nu","type":"quantitative"},"text":{"field":"label"}}},
{"data":{"name":"Lturb"},
 "mark":{"type":"text","fontSize":20,"color":"black","align":"left","baseline":"top","angle":270,"lineBreak":"\n","lineHeight":22},
 "encoding":{"x":{"field":"Re","type":"quantitative"},"y":{"field":"Nu","type":"quantitative"},"text":{"field":"label"}}},
{"data":{"name":"Llead"},
 "mark":{"type":"point","shape":"triangle","filled":true,"color":"black","size":16,"angle":152},
 "encoding":{"x":{"field":"Re","type":"quantitative"},"y":{"field":"Nu","type":"quantitative"}}},
{"data":{"name":"Lturbarrow"},
 "mark":{"type":"point","shape":"triangle","filled":true,"color":"black","size":16,"angle":270},
 "encoding":{"x":{"field":"Re","type":"quantitative"},"y":{"field":"Nu","type":"quantitative"}}}
]},
{"data":{"name":"Llines"},
 "mark":{"type":"point","opacity":0},
 "encoding":{
  "x":{"field":"Re","type":"quantitative","axis":{"orient":"top","labels":false,"title":null,"values":[2000,4000,5000]}},
  "y":{"field":"Nu","type":"quantitative","axis":{"orient":"right","labels":false,"title":null,"values":[5,10,20]}}
 }}
],
"resolve":{"axis":{"x":"independent","y":"independent"}}
},
{
"width":199,"height":271,
"layer":[
{"layer":[
{"data":{"name":"Rpts"},
 "mark":{"type":"point","filled":false,"color":"black","size":34,"strokeWidth":0.9},
 "encoding":{
  "x":{"field":"Re","type":"quantitative","scale":{"type":"log","domain":[1000,10000],"nice":false},
       "axis":{"values":[1000,2000,5000,10000],"labelExpr":"datum.value == 1000 ? '10³' : datum.value == 10000 ? '10⁴' : format(datum.value/1000, 'd')","title":"Ref  (−)","titleX":126,"labelPadding":18,"titlePadding":2}},
  "y":{"field":"Nu","type":"quantitative","scale":{"type":"log","domain":[2,50],"nice":false},
       "axis":{"values":[2,5,10,20,50],"labelExpr":"format(datum.value, 'd')","title":"Nu/Prf⁰·³  (−)","titleY":90}},
  "shape":{"field":"flow","type":"nominal","scale":{"domain":["DOWNFLOW","UPFLOW"],"range":["circle","triangle-up"]},
       "legend":{"orient":"none","legendX":1,"legendY":219,"title":null,"labelFontSize":19,"symbolSize":30,"symbolStrokeWidth":0.9,"symbolStrokeColor":"black","rowPadding":-2,"labelOffset":-3,"padding":0}}
 }},
{"data":{"name":"Rlines"},
 "mark":{"type":"line","color":"black"},
 "encoding":{
  "x":{"field":"Re","type":"quantitative"},
  "y":{"field":"Nu","type":"quantitative"},
  "detail":{"field":"id"},
  "strokeDash":{"field":"kind","type":"nominal","scale":{"domain":["equation","bound","boundary","guide","leader"],"range":[[1,0],[1,0],[3,2],[5,3],[5,2,1,2]]},"legend":null},
  "strokeWidth":{"field":"kind","type":"nominal","scale":{"domain":["equation","bound","boundary","guide","leader"],"range":[1.3,1.3,1,1,0.7]},"legend":null}
 }},
{"data":{"name":"Rnote"},
 "mark":{"type":"text","fontSize":20,"color":"black","align":"center","baseline":"middle"},
 "encoding":{"x":{"field":"Re","type":"quantitative"},"y":{"field":"Nu","type":"quantitative"},"text":{"field":"label"}}},
{"data":{"name":"Rbound"},
 "mark":{"type":"text","fontSize":20,"color":"black","align":"center","baseline":"middle","angle":318},
 "encoding":{"x":{"field":"Re","type":"quantitative"},"y":{"field":"Nu","type":"quantitative"},"text":{"field":"label"}}},
{"data":{"name":"Rturb"},
 "mark":{"type":"text","fontSize":20,"color":"black","align":"left","baseline":"top","angle":270,"lineBreak":"\n","lineHeight":22},
 "encoding":{"x":{"field":"Re","type":"quantitative"},"y":{"field":"Nu","type":"quantitative"},"text":{"field":"label"}}},
{"data":{"name":"Rlead"},
 "mark":{"type":"point","shape":"triangle","filled":true,"color":"black","size":16,"angle":154},
 "encoding":{"x":{"field":"Re","type":"quantitative"},"y":{"field":"Nu","type":"quantitative"}}}
]},
{"data":{"name":"Rlines"},
 "mark":{"type":"point","opacity":0},
 "encoding":{
  "x":{"field":"Re","type":"quantitative","axis":{"orient":"top","labels":false,"title":null,"values":[2000,5000]}},
  "y":{"field":"Nu","type":"quantitative","axis":{"orient":"right","labels":false,"title":null,"values":[5,10,20]}}
 }}
],
"resolve":{"axis":{"x":"independent","y":"independent"}}
}
],
"resolve":{"scale":{"x":"independent","y":"independent","shape":"independent","strokeDash":"independent","strokeWidth":"independent"},"legend":{"shape":"independent"}},
"config":{
"font":"'Liberation Sans Narrow', 'DejaVu Sans Condensed', 'Liberation Sans', sans-serif",
"view":{"stroke":"black","strokeWidth":1.5},
"text":{"font":"'Liberation Sans Narrow', 'DejaVu Sans Condensed', 'Liberation Sans', sans-serif"},
"legend":{"labelFont":"'Liberation Sans Narrow', 'DejaVu Sans Condensed', 'Liberation Sans', sans-serif","labelColor":"black"},
"axis":{"labelFont":"'Liberation Sans Narrow', 'DejaVu Sans Condensed', 'Liberation Sans', sans-serif","titleFont":"'Liberation Sans Narrow', 'DejaVu Sans Condensed', 'Liberation Sans', sans-serif","labelFontSize":21,"titleFontSize":21,"titleFontWeight":"normal","labelColor":"black","titleColor":"black","tickColor":"black","tickSize":-7,"tickWidth":1.2,"domain":false,"grid":false,"labelPadding":12,"labelFlush":false,"labelOverlap":false,"titlePadding":8}
}
}
